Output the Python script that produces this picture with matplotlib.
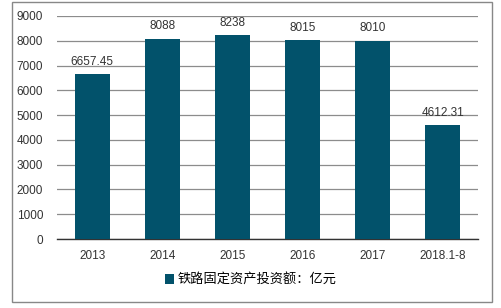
import matplotlib.pyplot as plt
from matplotlib.patches import Rectangle, Patch

plt.rcParams['font.family'] = ['Liberation Sans', 'Noto Sans CJK SC', 'DejaVu Sans']

categories = ["2013", "2014", "2015", "2016", "2017", "2018.1-8"]
values = [6657.45, 8088, 8238, 8015, 8010, 4612.31]
labels = ["6657.45", "8088", "8238", "8015", "8010", "4612.31"]
series_name = "铁路固定资产投资额：亿元"

bar_color = "#02526B"

fig = plt.figure(figsize=(5.02, 3.08), dpi=100)
fig.patches.append(Rectangle((12 / 502, 6 / 308), 480 / 502, 300 / 308,
                             transform=fig.transFigure, fill=False,
                             edgecolor="#888888", linewidth=1.0))

ax = fig.add_axes([57 / 502, 69 / 308, 421 / 502, 223 / 308])
x = range(len(categories))
bars = ax.bar(x, values, width=0.5, color=bar_color, zorder=3)

for xi, v, lab in zip(x, values, labels):
    ax.text(xi, v + 250, lab, ha="center", va="bottom", fontsize=8.5, color="#333333")

ax.set_xlim(-0.5, len(categories) - 0.5)
ax.set_ylim(0, 9000)
ax.set_yticks(range(0, 9001, 1000))
ax.set_xticks(list(x))
ax.set_xticklabels(categories)
ax.tick_params(axis="both", length=0, labelsize=8.5, colors="#333333")
ax.tick_params(axis="y", pad=10)
ax.tick_params(axis="x", pad=8)
ax.grid(axis="y", color="#8c8c8c", linewidth=0.9, zorder=0)
for s in ["left", "right", "top"]:
    ax.spines[s].set_visible(False)
ax.spines["bottom"].set_color("#333333")
ax.spines["bottom"].set_linewidth(1.0)

handle = Patch(facecolor=bar_color, edgecolor="none")
fig.legend([handle], [series_name], loc="center", bbox_to_anchor=(0.5, 28 / 308),
           frameon=False, fontsize=9.5, handlelength=0.7, handleheight=0.7,
           handletextpad=0.3)

fig.savefig("out.png", dpi=100)
